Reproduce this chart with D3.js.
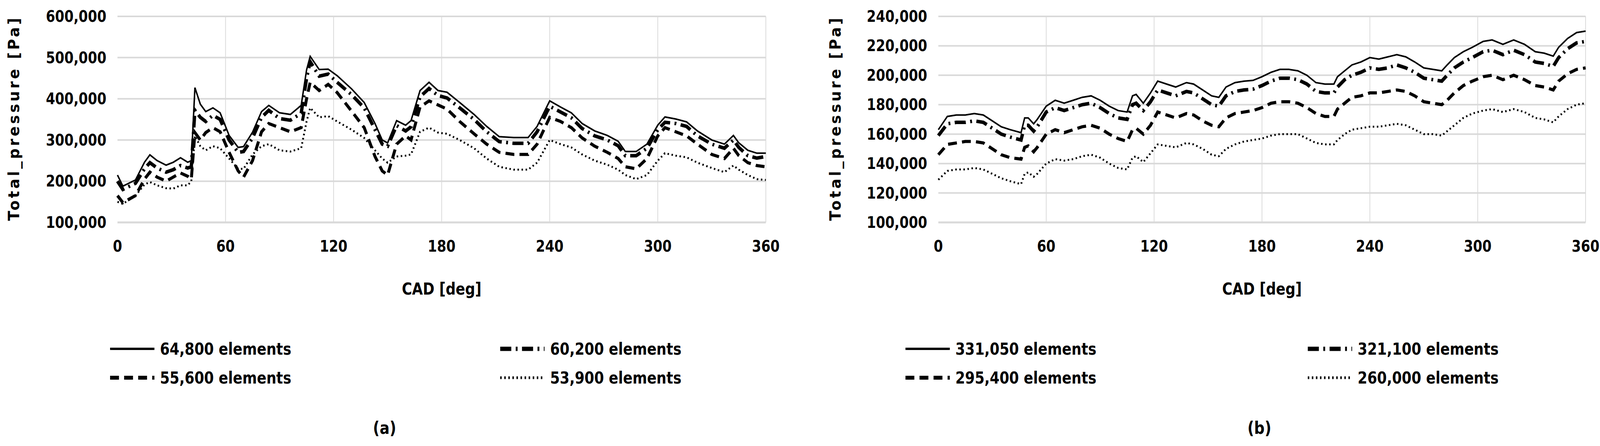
<!DOCTYPE html>
<html>
<head>
<meta charset="utf-8">
<script src="https://cdn.jsdelivr.net/npm/d3@7"></script>
<style>
  html, body { margin: 0; padding: 0; background: #fff; overflow: hidden; }
  svg { display: block; width: 100vw; height: 100vh; }
  text { font-family: "DejaVu Sans Condensed", "DejaVu Sans", sans-serif; font-weight: bold; fill: #000; }
</style>
</head>
<body>
<script>
// ---- chart (a) data: CAD [deg] and pressure in kPa ----
var cadA = [0,3,10,15,18,22,27,31,35,39,41,43,46,49,53,57,62,67,70,75,80,84,90,96,102,105,107,112,117,122,130,137,143,147,150,155,160,163,168,173,178,183,190,198,205,212,220,228,233,240,246,252,258,265,272,278,282,288,294,300,304,310,316,322,330,337,342,345,350,355,360];
var a64800 = [215,188,203,246,264,250,239,246,257,246,250,427,387,369,378,366,311,282,284,319,369,384,366,362,384,470,503,471,472,456,424,391,340,300,293,347,336,347,420,440,420,416,391,362,333,308,306,306,333,395,380,366,340,322,311,297,272,272,290,336,356,351,344,322,300,290,311,293,275,268,268];
var a60200 = [200,180,195,230,245,232,222,228,238,232,235,372,355,345,360,350,300,270,272,305,355,372,352,348,365,450,490,455,460,440,410,378,325,290,285,335,322,332,405,425,408,402,378,350,320,296,292,292,320,382,368,354,328,310,300,286,262,262,280,325,343,340,333,310,290,280,300,282,262,256,260];
var a55600 = [165,148,165,205,222,210,200,210,220,212,205,318,300,318,330,320,270,225,210,250,320,340,330,320,330,400,440,420,435,415,370,330,260,225,215,290,310,300,380,395,385,375,345,315,290,270,265,265,290,355,345,330,305,285,270,255,235,230,255,310,330,320,310,290,265,255,280,262,245,238,235];
var a53900 = [150,145,165,192,198,190,183,182,190,190,200,310,285,275,285,280,255,230,230,265,285,290,275,272,280,345,378,355,358,345,325,305,275,255,245,260,262,265,320,330,318,315,300,280,255,235,228,228,245,300,290,282,265,250,240,228,215,205,215,250,268,262,258,245,232,222,238,228,215,205,203];

// ---- chart (b) data ----
var cadB = [0,5,10,15,20,25,30,35,40,46,48,50,53,55,60,65,70,75,80,85,90,95,100,105,108,110,114,118,122,127,132,138,142,147,152,156,160,165,170,175,180,185,190,195,200,205,210,215,220,222,226,230,235,240,245,250,255,260,265,270,275,280,283,287,292,297,303,308,314,320,326,332,337,342,345,350,355,360];
var b331050 = [163,172,173,173,174,173,169,165,163,161,171,171,167,170,179,183,181,183,185,186,183,179,176,175,186,187,181,188,196,194,192,195,194,190,186,185,192,195,196,196.5,199,202,204,204,203,200,195,194,194,199,203,207,209,212,211,212.5,214,212.5,209,205,204,203,207,212,216,219,223,224,221,224,221,216,215,213,219,225,229,230];
var b321100 = [159,167,168,168,169,168,164,160,158,156,166,166,162,165,175,178,176,178,180,181,178,174,171,170,180,181,176,182,190,188,186,189,188,184,180,179,186,189,190,190.5,193,196,198,198,197,194,189,188,188,192,197,200,202,205,204,205,207,205,202,198,197,196,200,205,209,212,216,217,214,217,214,209,208,206,212,218,222,223];
var b295400 = [146,153,154,155,155,154,150,146,144,143,151,152,148,151,160,163,161,163,165,166,164,160,157,155,163,164,160,166,175,173,171,174,173,169,166,165,171,174,175,176,178,181,182,182,181,178,174,172,172,177,181,185,186,188,188,189,190,189,186,182,181,180,183,188,193,196,199,200,197,200,197,193,192,190,196,201,204,205];
var b260000 = [129,135,136,136,137,136,133,130,128,126,133,134,131,133,140,143,142,143,145,146,144,140,137,136,144,145,141,147,153,152,151,154,153,150,146,145,150,153,155,156,157,159,160,160,160,157,154,153,153,156,160,163,164,165,165,166,167,166,163,160,160,159,162,166,171,174,176,177,175,177,175,171,170,168,172,177,180,181];

var xTicks = [0,60,120,180,240,300,360];
var yTicksA = [100000,200000,300000,400000,500000,600000];
var yTicksB = [100000,120000,140000,160000,180000,200000,220000,240000];

var styles = [
  {w: 4, dash: null},
  {w: 9, dash: "30,12,5,12"},
  {w: 8, dash: "24,14"},
  {w: 5, dash: "4,7"}
];

var svg = d3.select("body").append("svg")
  .attr("viewBox", "0 0 4331 1143")
  .attr("preserveAspectRatio", "none");

function panel(opt) {
  var x = d3.scaleLinear().domain([0, 360]).range([opt.left, opt.right]);
  var y = d3.scaleLinear().domain(opt.yDomain).range([570, 42]);
  var g = svg.append("g");

  g.append("g").selectAll("line.h").data(opt.yTicks).enter().append("line")
    .attr("x1", opt.left).attr("x2", opt.right)
    .attr("y1", d => y(d)).attr("y2", d => y(d))
    .attr("stroke", "#d9d9d9").attr("stroke-width", d => d === opt.yDomain[0] ? 5 : 4);
  g.append("g").selectAll("line.v").data(xTicks.slice(1)).enter().append("line")
    .attr("x1", d => x(d)).attr("x2", d => x(d))
    .attr("y1", y(opt.yDomain[1])).attr("y2", y(opt.yDomain[0]))
    .attr("stroke", "#d9d9d9").attr("stroke-width", 2);

  g.append("g").selectAll("text").data(opt.yTicks).enter().append("text")
    .attr("x", opt.left - 30).attr("y", d => y(d) + 14)
    .attr("text-anchor", "end").attr("font-size", 40)
    .text(d => d3.format(",")(d));
  g.append("g").selectAll("text").data(xTicks).enter().append("text")
    .attr("x", d => x(d)).attr("y", 645)
    .attr("text-anchor", "middle").attr("font-size", 40)
    .text(d => d);

  g.append("text")
    .attr("transform", "translate(" + opt.titleX + ",306) rotate(-90)")
    .attr("text-anchor", "middle").attr("font-size", 42)
    .attr("textLength", 520).attr("lengthAdjust", "spacing")
    .text("Total_pressure [Pa]");
  g.append("text")
    .attr("x", (opt.left + opt.right) / 2).attr("y", 755)
    .attr("text-anchor", "middle").attr("font-size", 42)
    .text("CAD [deg]");

  var line = d3.line().x((d, i) => x(opt.cad[i])).y(d => y(d * 1000));
  opt.series.forEach(function (s, k) {
    g.append("path").datum(s)
      .attr("d", line).attr("fill", "none").attr("stroke", "#000")
      .attr("stroke-width", styles[k].w)
      .attr("stroke-dasharray", styles[k].dash);
  });

  // legend
  opt.names.forEach(function (n, k) {
    var lx = opt.legX[k % 2], ly = k < 2 ? 894 : 968;
    g.append("line").attr("x1", lx).attr("x2", lx + 120).attr("y1", ly).attr("y2", ly)
      .attr("stroke", "#000").attr("stroke-width", styles[k].w + 2)
      .attr("stroke-dasharray", styles[k].dash);
    g.append("text").attr("x", lx + 135).attr("y", ly + 15).attr("font-size", 42).text(n);
  });

  g.append("text").attr("x", opt.labelX).attr("y", 1112)
    .attr("text-anchor", "middle").attr("font-size", 44).text(opt.label);
}

panel({
  left: 318, right: 2073, yDomain: [100000, 600000], yTicks: yTicksA, titleX: 52,
  cad: cadA, series: [a64800, a60200, a55600, a53900],
  names: ["64,800 elements", "60,200 elements", "55,600 elements", "53,900 elements"],
  legX: [298, 1354], labelX: 1041, label: "(a)"
});
panel({
  left: 2540, right: 4292, yDomain: [100000, 240000], yTicks: yTicksB, titleX: 2275,
  cad: cadB, series: [b331050, b321100, b295400, b260000],
  names: ["331,050 elements", "321,100 elements", "295,400 elements", "260,000 elements"],
  legX: [2451, 3540], labelX: 3409, label: "(b)"
});
</script>
</body>
</html>
